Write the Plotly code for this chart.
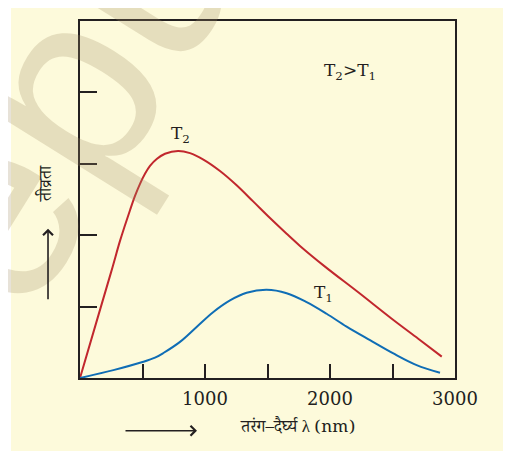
import plotly.graph_objects as go

# Wavelength (nm) and intensity (arbitrary units)
t2_x = [0, 144, 250, 320, 360, 400, 440, 480, 520, 560, 616, 680, 784, 880, 987, 1120, 1253, 1387,
        1520, 1653, 1760, 1960, 2226, 2494, 2706, 2894]
t2_y = [0, 0.86, 1.49, 1.92, 2.14, 2.35, 2.55, 2.72, 2.86, 2.97, 3.07, 3.14, 3.18, 3.15, 3.06, 2.90, 2.70, 2.47,
        2.24, 2.02, 1.85, 1.56, 1.20, 0.83, 0.55, 0.30]

t1_x = [0, 267, 507, 600, 667, 800, 933, 1067, 1200, 1333, 1493, 1653, 1813, 1973, 2133, 2320, 2507, 2693, 2880]
t1_y = [0, 0.11, 0.227, 0.285, 0.35, 0.506, 0.715, 0.924, 1.086, 1.193, 1.235, 1.188, 1.063, 0.90, 0.72,
        0.53, 0.344, 0.181, 0.074]

x_tick_vals = [1000, 2000, 3000]
x_tick_text = ["1000", "2000", "3000"]
y_tick_vals = [1, 2, 3, 4]

label_t2 = "T<sub>2</sub>"
label_t1 = "T<sub>1</sub>"
label_cmp = "T<sub>2</sub>>T<sub>1</sub>"
y_title = "तीव्रता"
x_title = "तरंग–दैर्घ्य λ (nm)"
watermark = "epub"

INK = "#231F20"
BG = "#FDFADB"
SERIF = "DejaVu Serif"
DEVA = "Noto Serif Devanagari, Noto Sans Devanagari, Lohit Devanagari, Mukta, serif"

fig = go.Figure()
fig.add_trace(go.Scatter(x=t2_x, y=t2_y, mode="lines",
                         line=dict(color="#C1272D", width=2, shape="spline", smoothing=1.0)))
fig.add_trace(go.Scatter(x=t1_x, y=t1_y, mode="lines",
                         line=dict(color="#0F6DB5", width=2, shape="spline", smoothing=1.0)))

fig.update_layout(
    width=503, height=443,
    margin=dict(l=72, r=56, t=11, b=73),
    paper_bgcolor="white",
    plot_bgcolor="rgba(0,0,0,0)",
    showlegend=False,
    xaxis=dict(range=[0, 3000], tickvals=x_tick_vals, ticktext=x_tick_text,
               ticks="inside", ticklen=14, tickwidth=2, tickcolor=INK,
               minor=dict(dtick=500, tick0=0, ticks="inside", ticklen=14, tickwidth=2, tickcolor=INK),
               showline=True, mirror=True, linecolor=INK, linewidth=2,
               showgrid=False, zeroline=False, ticklabelstandoff=3,
               tickfont=dict(family=SERIF, size=18, color=INK)),
    yaxis=dict(range=[0, 5], tickvals=y_tick_vals, showticklabels=False,
               ticks="inside", ticklen=17, tickwidth=2, tickcolor=INK,
               showline=True, mirror=True, linecolor=INK, linewidth=2,
               showgrid=False, zeroline=False),
)

# background panel (white strip at left like the scan)
fig.add_shape(type="rect", xref="paper", yref="paper", x0=-0.184, x1=1.2, y0=-0.25, y1=1.06,
              fillcolor=BG, line=dict(width=0), layer="below")

# faint watermark
fig.add_annotation(text=watermark, xref="paper", yref="paper", x=0.06, y=0.97,
                   xanchor="center", yanchor="middle", showarrow=False, textangle=-58,
                   font=dict(family="Liberation Sans", size=260, color="rgba(160,140,100,0.25)"))

fig.add_annotation(text=label_t2, x=800, y=3.41, showarrow=False, font=dict(family=SERIF, size=17, color=INK))
fig.add_annotation(text=label_t1, x=1944, y=1.18, showarrow=False, font=dict(family=SERIF, size=17, color=INK))
fig.add_annotation(text=label_cmp, x=2160, y=4.29, showarrow=False, font=dict(family=SERIF, size=17, color=INK))

fig.add_annotation(text=y_title, xref="paper", yref="paper", x=-0.0853, y=0.543, textangle=-90,
                   xanchor="center", yanchor="middle",
                   showarrow=False, font=dict(family=DEVA, size=17, color=INK))
fig.add_annotation(text=x_title, xref="paper", yref="paper", x=0.581, y=-0.142,
                   xanchor="center", yanchor="middle",
                   showarrow=False, font=dict(family=DEVA, size=17, color=INK))

# direction arrows
fig.add_annotation(text="", xref="paper", yref="paper", x=-0.0853, y=0.418, ax=0, ay=72,
                   showarrow=True, arrowhead=4, arrowsize=1.2, arrowwidth=1.6, arrowcolor=INK)
fig.add_annotation(text="", xref="paper", yref="paper", x=0.312, y=-0.1476, ax=-73, ay=0,
                   showarrow=True, arrowhead=4, arrowsize=1.2, arrowwidth=1.6, arrowcolor=INK)

fig.write_html("out.html")
